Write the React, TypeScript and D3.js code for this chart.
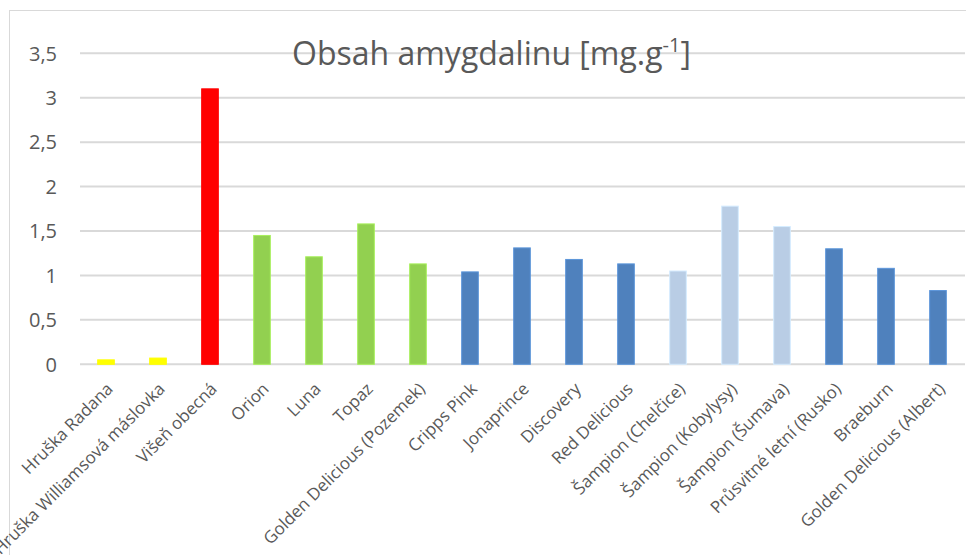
import React, { useEffect, useRef } from 'react';
import * as d3 from 'd3';

// odrůdy (kategorie na ose x)
const varieties = [
  'Hruška Radana',
  'Hruška Williamsová máslovka',
  'Višeň obecná',
  'Orion',
  'Luna',
  'Topaz',
  'Golden Delicious (Pozemek)',
  'Cripps Pink',
  'Jonaprince',
  'Discovery',
  'Red Delicious',
  'Šampion (Chelčice)',
  'Šampion (Kobylysy)',
  'Šampion (Šumava)',
  'Průsvitné letní (Rusko)',
  'Braeburn',
  'Golden Delicious (Albert)'
];

// obsah amygdalinu [mg/g]
const amygdalin = [0.05, 0.07, 3.1, 1.45, 1.21, 1.58, 1.13, 1.04, 1.31, 1.18, 1.13, 1.05, 1.78, 1.55, 1.3, 1.08, 0.83];

// skupina každé odrůdy -> barva sloupce
const groups = [
  'pear', 'pear', 'cherry',
  'resistant', 'resistant', 'resistant', 'resistant',
  'commercial', 'commercial', 'commercial', 'commercial',
  'sampion', 'sampion', 'sampion',
  'commercial', 'commercial', 'commercial'
];
const groupNames = ['pear', 'cherry', 'resistant', 'commercial', 'sampion'];
const groupColors = ['#FFFF00', '#FF0000', '#92D050', '#4F81BD', '#B9CDE5'];

const yTicks = [0, 0.5, 1, 1.5, 2, 2.5, 3, 3.5];

const W = 966;
const H = 555;

export default function App() {
  const ref = useRef<SVGSVGElement>(null);

  useEffect(() => {
    const svg = d3.select(ref.current);
    svg.selectAll('*').remove();

    const left = 80, right = 964, top = 53.3, bottom = 364.3;
    const font = '"Open Sans", sans-serif';

    let x = d3.scaleBand<string>()
      .domain(varieties)
      .range([left, right])
      .paddingInner(0.68)
      .paddingOuter(0.34);
    let y = d3.scaleLinear()
      .domain([0, 3.5])
      .range([bottom, top]);
    let color = d3.scaleOrdinal<string, string>()
      .domain(groupNames)
      .range(groupColors);

    // rámeček grafu
    svg.append('rect')
      .attr('x', 9.5).attr('y', 10.5)
      .attr('width', 1000).attr('height', 600)
      .attr('fill', 'white')
      .attr('stroke', '#D9D9D9')
      .attr('stroke-width', 1);

    // mřížka
    svg.append('g')
      .selectAll('line')
      .data(yTicks)
      .enter().append('line')
      .attr('x1', left).attr('x2', 965)
      .attr('y1', d => y(d)).attr('y2', d => y(d))
      .attr('stroke', '#D9D9D9')
      .attr('stroke-width', 2);

    // popisky osy y
    svg.append('g')
      .selectAll('text')
      .data(yTicks)
      .enter().append('text')
      .attr('x', 57)
      .attr('y', d => y(d))
      .attr('dy', '0.36em')
      .attr('text-anchor', 'end')
      .style('font-family', font)
      .style('font-size', '20px')
      .style('fill', '#595959')
      .text(d => d3.format('')(d).replace('.', ','));

    // sloupce
    svg.append('g')
      .selectAll('rect')
      .data(amygdalin)
      .enter().append('rect')
      .attr('x', (d, i) => x(varieties[i]) as number)
      .attr('width', x.bandwidth())
      .attr('y', d => y(d))
      .attr('height', d => bottom - y(d))
      .attr('fill', (d, i) => color(groups[i]))
      .attr('stroke', (d, i) => d3.color(color(groups[i]))!.brighter(0.4).formatHex())
      .attr('stroke-width', 1);

    // popisky kategorií
    svg.append('g')
      .selectAll('text')
      .data(varieties)
      .enter().append('text')
      .attr('transform', d => 'translate(' + ((x(d) as number) + x.bandwidth() / 2 + 8) + ',390) rotate(-45)')
      .attr('text-anchor', 'end')
      .style('font-family', font)
      .style('font-size', '17px')
      .style('fill', '#595959')
      .text(d => d);

    // titulek
    let title = svg.append('text')
      .attr('x', 292)
      .attr('y', 65)
      .style('font-family', font)
      .style('font-size', '32px')
      .style('fill', '#595959');
    title.append('tspan').text('Obsah amygdalinu [mg.g');
    title.append('tspan').attr('dy', -13).style('font-size', '20px').text('-1');
    title.append('tspan').attr('dy', 13).text(']');
  }, []);

  return (
    <svg ref={ref} width={W} height={H} style={{ position: 'absolute', left: 0, top: 0 }} />
  );
}
